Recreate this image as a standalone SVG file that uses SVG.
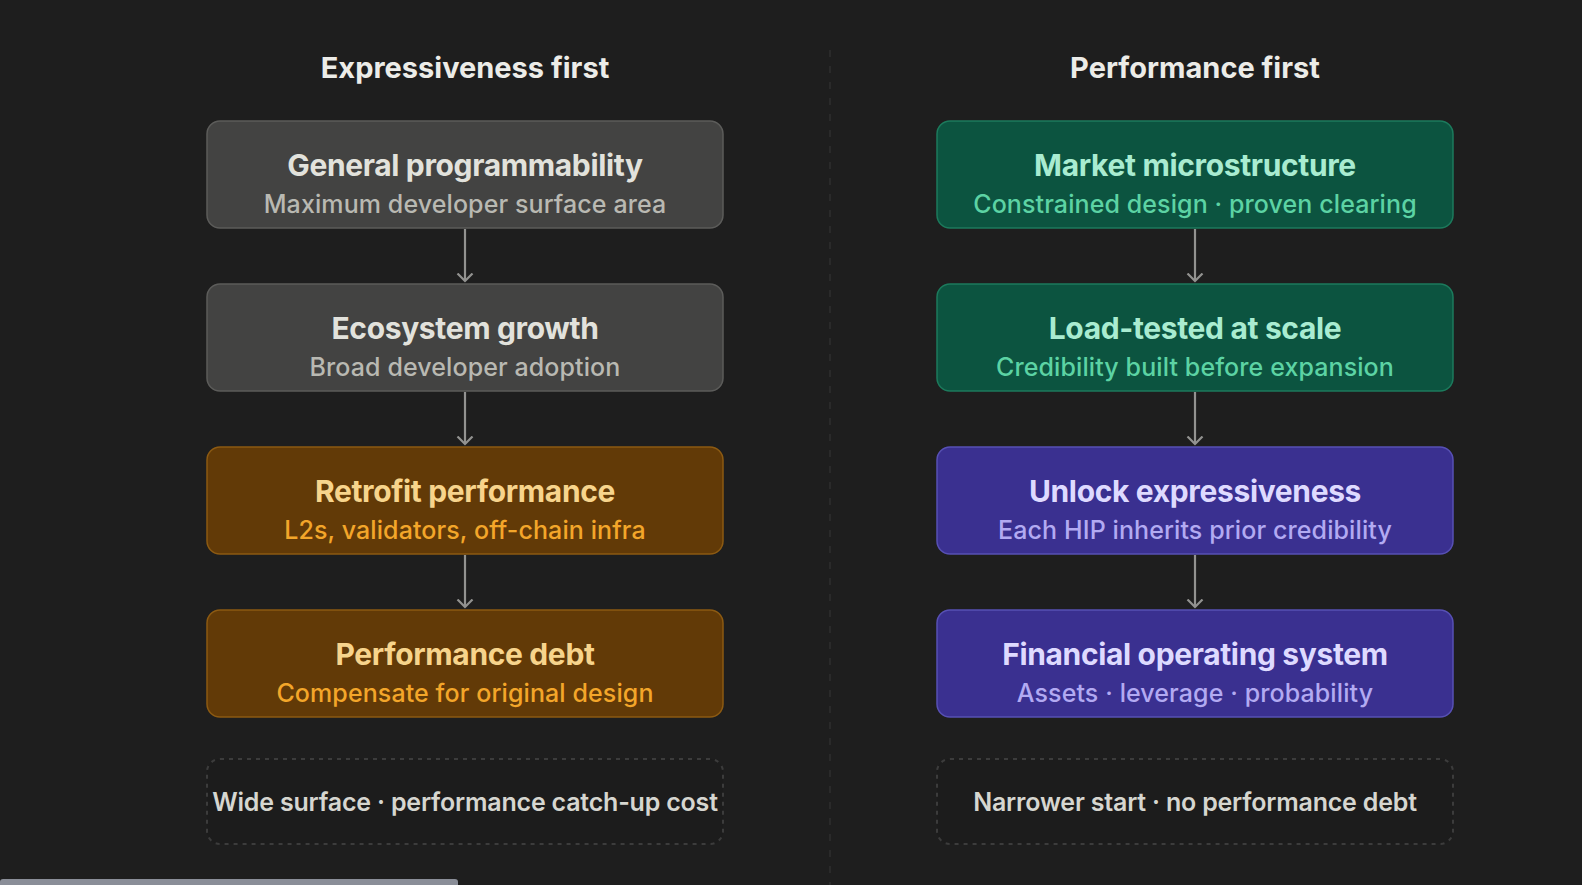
<svg xmlns="http://www.w3.org/2000/svg" width="1582" height="885" viewBox="0 0 1582 885">
<defs>
<style>
text{font-family:Inter,"Liberation Sans",Arial,sans-serif;text-anchor:middle}
.h{font-size:29px;font-weight:700;fill:#ecece8;letter-spacing:0px}
.t{font-size:30px;font-weight:700;letter-spacing:-0.35px}
.s{font-size:25px;font-weight:500;letter-spacing:0.1px}
.f{font-size:25px;font-weight:600;fill:#d6d6d0;letter-spacing:-0.2px}
.box{stroke-width:1.5}
.grey rect{fill:#434342;stroke:#5c5c5a}
.grey .t{fill:#e2e2dc}.grey .s{fill:#b9b9b2}
.orange rect{fill:#623a07;stroke:#8c5a12}
.orange .t{fill:#f7d48c}.orange .s{fill:#f3a62a}
.green rect{fill:#0c5440;stroke:#1c7a5c}
.green .t{fill:#a9ecd1}.green .s{fill:#5cd3a4}
.purple rect{fill:#3a3090;stroke:#5750b4}
.purple .t{fill:#dedaff}.purple .s{fill:#b2aaf2}
.note rect{fill:#1c1c1c;stroke:#3c3c3c;stroke-width:2;stroke-dasharray:4 5}
.conn line{stroke:#929290;stroke-width:2.2}
</style>
<marker id="ah" viewBox="0 0 10 18" refX="8.5" refY="9" markerWidth="10" markerHeight="18" markerUnits="userSpaceOnUse" orient="auto">
<path d="M1 1.5 L8.5 9 L1 16.5" fill="none" stroke="#929290" stroke-width="2.2"/>
</marker>
</defs>
<rect width="1582" height="885" fill="#1e1e1e"/>
<line x1="830" y1="50" x2="830" y2="885" stroke="#2a2a2a" stroke-width="2" stroke-dasharray="7 9"/>
<rect x="0" y="879" width="458" height="10" rx="3" fill="#8a8e98"/>

<g id="title-left"><text class="h" x="465" y="78">Expressiveness first</text></g>
<g id="title-right"><text class="h" x="1195" y="78">Performance first</text></g>

<g id="n1" class="box grey"><rect x="207" y="121" width="516" height="107" rx="13"/>
<text class="t" x="465" y="176">General programmability</text>
<text class="s" x="465" y="213">Maximum developer surface area</text></g>
<g id="n2" class="box grey"><rect x="207" y="284" width="516" height="107" rx="13"/>
<text class="t" x="465" y="339">Ecosystem growth</text>
<text class="s" x="465" y="376">Broad developer adoption</text></g>
<g id="n3" class="box orange"><rect x="207" y="447" width="516" height="107" rx="13"/>
<text class="t" x="465" y="502">Retrofit performance</text>
<text class="s" x="465" y="539">L2s, validators, off-chain infra</text></g>
<g id="n4" class="box orange"><rect x="207" y="610" width="516" height="107" rx="13"/>
<text class="t" x="465" y="665">Performance debt</text>
<text class="s" x="465" y="702">Compensate for original design</text></g>

<g id="m1" class="box green"><rect x="937" y="121" width="516" height="107" rx="13"/>
<text class="t" x="1195" y="176">Market microstructure</text>
<text class="s" x="1195" y="213">Constrained design · proven clearing</text></g>
<g id="m2" class="box green"><rect x="937" y="284" width="516" height="107" rx="13"/>
<text class="t" x="1195" y="339">Load-tested at scale</text>
<text class="s" x="1195" y="376">Credibility built before expansion</text></g>
<g id="m3" class="box purple"><rect x="937" y="447" width="516" height="107" rx="13"/>
<text class="t" x="1195" y="502">Unlock expressiveness</text>
<text class="s" x="1195" y="539">Each HIP inherits prior credibility</text></g>
<g id="m4" class="box purple"><rect x="937" y="610" width="516" height="107" rx="13"/>
<text class="t" x="1195" y="665">Financial operating system</text>
<text class="s" x="1195" y="702">Assets · leverage · probability</text></g>

<g id="note-left" class="note"><rect x="207" y="759" width="516" height="85" rx="13"/>
<text class="f" x="465" y="811">Wide surface · performance catch-up cost</text></g>
<g id="note-right" class="note"><rect x="937" y="759" width="516" height="85" rx="13"/>
<text class="f" x="1195" y="811">Narrower start · no performance debt</text></g>

<g id="connectors" class="conn">
<line x1="465" y1="229" x2="465" y2="281" marker-end="url(#ah)"/>
<line x1="465" y1="392" x2="465" y2="444" marker-end="url(#ah)"/>
<line x1="465" y1="555" x2="465" y2="607" marker-end="url(#ah)"/>
<line x1="1195" y1="229" x2="1195" y2="281" marker-end="url(#ah)"/>
<line x1="1195" y1="392" x2="1195" y2="444" marker-end="url(#ah)"/>
<line x1="1195" y1="555" x2="1195" y2="607" marker-end="url(#ah)"/>
</g>
</svg>
